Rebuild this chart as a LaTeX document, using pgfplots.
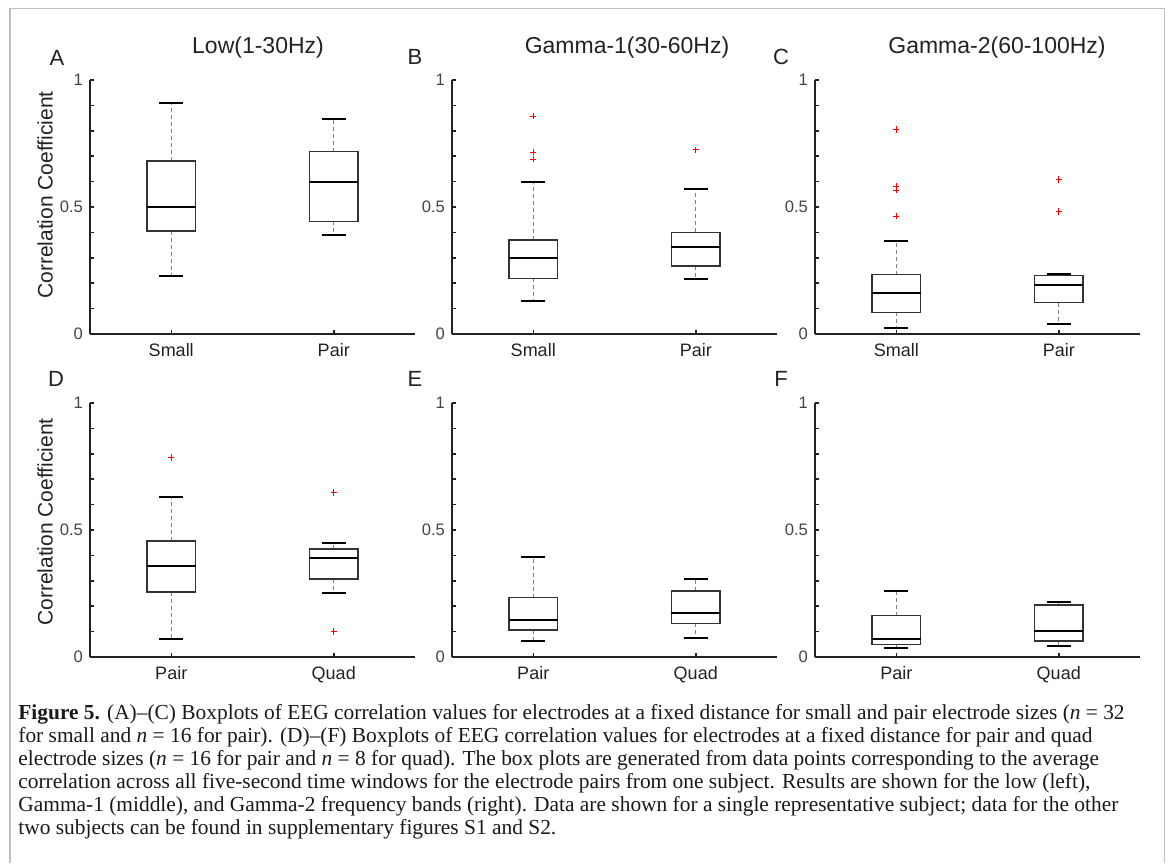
\documentclass[border=0pt]{standalone}
\usepackage{pgfplots}
\pgfplotsset{compat=1.18}
\usepgfplotslibrary{statistics}
\usepackage{fontspec}
\setmainfont{Liberation Sans}
\newfontfamily\capfont{Liberation Serif}
\definecolor{axc}{HTML}{222222}
\definecolor{tlc}{HTML}{444444}
\pgfplotsset{
 panel/.style={
  scale only axis, width=162.5pt, height=127pt,
  anchor=south west,
  xmin=0.5, xmax=2.5, ymin=0, ymax=1,
  axis x line*=bottom, axis y line*=left,
  axis line style={line width=0.8pt, axc, -},
  every tick/.style={line width=0.75pt, axc},
  tick align=inside,
  major tick length=2pt,
  xtick={1,2},
  ytick={0,0.1,0.2,0.3,0.4,0.5,0.6,0.7,0.8,0.9,1},
  yticklabels={0,{},{},{},{},0.5,{},{},{},{},1},
  y tick label style={font=\fontsize{8.3}{9}\selectfont, text=tlc},
  x tick label style={font=\fontsize{9}{10}\selectfont, text=axc, yshift=-1pt},
  /pgf/number format/assume math mode=true,
  clip=false,
 },
 bp/.style={
  black!80, line width=0.8pt,
  mark=+, mark size=1.6pt, mark options={red, line width=0.5pt, solid},
  boxplot/draw direction=y,
  boxplot/box extend=0.3,
  boxplot/whisker extend=0.15,
  boxplot/every median/.style={black, line width=1pt},
  boxplot/draw/lower whisker/.code={%
    \draw[gray, line width=0.45pt, dash pattern=on 2pt off 1.5pt]
      (boxplot box cs:\pgfplotsboxplotvalue{lower quartile},0.5) --
      (boxplot box cs:\pgfplotsboxplotvalue{lower whisker},0.5);
    \draw[black, line width=1pt, solid]
      (boxplot whisker cs:\pgfplotsboxplotvalue{lower whisker},0) --
      (boxplot whisker cs:\pgfplotsboxplotvalue{lower whisker},1);
  },
  boxplot/draw/upper whisker/.code={%
    \draw[gray, line width=0.45pt, dash pattern=on 2pt off 1.5pt]
      (boxplot box cs:\pgfplotsboxplotvalue{upper quartile},0.5) --
      (boxplot box cs:\pgfplotsboxplotvalue{upper whisker},0.5);
    \draw[black, line width=1pt, solid]
      (boxplot whisker cs:\pgfplotsboxplotvalue{upper whisker},0) --
      (boxplot whisker cs:\pgfplotsboxplotvalue{upper whisker},1);
  },
 },
}
\newcommand{\bx}[7]{\addplot[bp, boxplot prepared={draw position=#1, lower whisker=#2, lower quartile=#3, median=#4, upper quartile=#5, upper whisker=#6}] coordinates {#7};}
\begin{document}
\begin{tikzpicture}
\path[use as bounding box] (0,0) rectangle (584pt,-431.5pt);
\draw[line width=0.75pt, black!25] (5pt,-431.5pt) -- (5pt,-4.2pt) -- (582.3pt,-4.2pt) -- (582.3pt,-431.5pt);
% titles and letters
\tikzset{ttl/.style={font=\fontsize{11.5}{13}\selectfont, text=axc, anchor=base}}
\node[ttl] at (129pt,-26.5pt) {Low(1-30Hz)};
\node[ttl] at (313.5pt,-26.5pt) {Gamma-1(30-60Hz)};
\node[ttl] at (498.5pt,-26.5pt) {Gamma-2(60-100Hz)};
\tikzset{lt/.style={font=\fontsize{11}{12}\selectfont, text=axc}}
\node[lt] at (28.5pt,-29pt) {A};
\node[lt] at (207.5pt,-28.5pt) {B};
\node[lt] at (390.5pt,-28.5pt) {C};
\node[lt] at (28pt,-189.5pt) {D};
\node[lt] at (207.5pt,-189.5pt) {E};
\node[lt] at (390.5pt,-189.5pt) {F};
\tikzset{yl/.style={rotate=90, font=\fontsize{10.5}{12}\selectfont, text=axc}}
\node[yl] at (22.5pt,-97.5pt) {Correlation Coefficient};
\node[yl] at (22.5pt,-261pt) {Correlation Coefficient};
% A
\begin{axis}[panel, at={(45pt,-167pt)}, xticklabels={Small,Pair}]
\bx{1}{0.227}{0.406}{0.502}{0.681}{0.911}{}
\bx{2}{0.388}{0.443}{0.600}{0.718}{0.845}{}
\end{axis}
% B
\begin{axis}[panel, at={(226pt,-167pt)}, xticklabels={Small,Pair}]
\bx{1}{0.128}{0.219}{0.301}{0.371}{0.600}{(0,0.858) (0,0.716) (0,0.689)}
\bx{2}{0.215}{0.267}{0.341}{0.400}{0.569}{(0,0.725)}
\end{axis}
% C
\begin{axis}[panel, at={(407.5pt,-167pt)}, xticklabels={Small,Pair}]
\bx{1}{0.025}{0.085}{0.162}{0.234}{0.366}{(0,0.805) (0,0.582) (0,0.566) (0,0.464)}
\bx{2}{0.041}{0.124}{0.193}{0.230}{0.237}{(0,0.609) (0,0.482)}
\end{axis}
% D
\begin{axis}[panel, at={(45pt,-328.5pt)}, xticklabels={Pair,Quad}]
\bx{1}{0.071}{0.257}{0.360}{0.457}{0.628}{(0,0.785)}
\bx{2}{0.253}{0.308}{0.391}{0.426}{0.449}{(0,0.647) (0,0.100)}
\end{axis}
% E
\begin{axis}[panel, at={(226pt,-328.5pt)}, xticklabels={Pair,Quad}]
\bx{1}{0.065}{0.107}{0.145}{0.234}{0.395}{}
\bx{2}{0.075}{0.132}{0.173}{0.259}{0.308}{}
\end{axis}
% F
\begin{axis}[panel, at={(407.5pt,-328.5pt)}, xticklabels={Pair,Quad}]
\bx{1}{0.035}{0.049}{0.071}{0.163}{0.260}{}
\bx{2}{0.043}{0.064}{0.102}{0.205}{0.217}{}
\end{axis}
% caption
\tikzset{capt/.style={anchor=base west, inner sep=0pt, font=\capfont\fontsize{10.7}{12}\selectfont, text=black!90}}
\node[capt] at (9pt,-359.5pt) {\textbf{Figure 5.} (A)–(C) Boxplots of EEG correlation values for electrodes at a fixed distance for small and pair electrode sizes (\textit{n} = 32};
\node[capt] at (9pt,-371pt) {for small and \textit{n} = 16 for pair). (D)–(F) Boxplots of EEG correlation values for electrodes at a fixed distance for pair and quad};
\node[capt] at (9pt,-382.5pt) {electrode sizes (\textit{n} = 16 for pair and \textit{n} = 8 for quad). The box plots are generated from data points corresponding to the average};
\node[capt] at (9pt,-394pt) {correlation across all five-second time windows for the electrode pairs from one subject. Results are shown for the low (left),};
\node[capt] at (9pt,-405.5pt) {Gamma-1 (middle), and Gamma-2 frequency bands (right). Data are shown for a single representative subject; data for the other};
\node[capt] at (9pt,-417pt) {two subjects can be found in supplementary figures S1 and S2.};
\end{tikzpicture}
\end{document}
